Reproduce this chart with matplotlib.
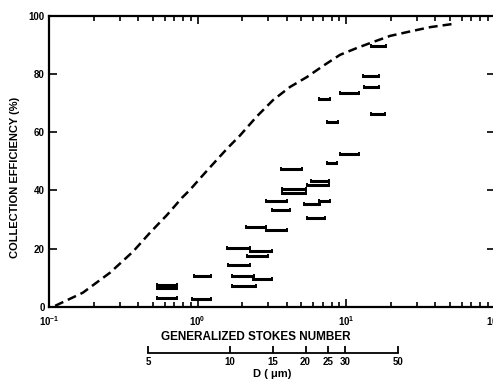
import matplotlib.pyplot as plt
import numpy as np

plt.rcParams['font.family'] = ['Liberation Sans', 'DejaVu Sans']
plt.rcParams['font.weight'] = 'bold'
plt.rcParams['mathtext.fontset'] = 'custom'
plt.rcParams['mathtext.bf'] = 'Liberation Sans:bold'
plt.rcParams['mathtext.rm'] = 'Liberation Sans:bold'

# dashed theory curve
curve_stk = [0.11, 0.169, 0.258, 0.368, 0.479, 0.624, 0.787, 0.89, 1.1, 1.35,
             1.6, 1.93, 2.5, 3.23, 4.2, 5.46, 7.0, 9.11, 11.9, 15.2, 19.8,
             25.8, 36.8, 52.5]
curve_eff = [0.4, 4.9, 11.8, 19.0, 25.5, 31.6, 37.5, 40.2, 45.5, 50.5,
             54.6, 58.8, 65.3, 71.0, 75.5, 78.9, 82.7, 86.5, 88.9, 90.9, 93.0,
             94.3, 96.0, 97.1]

# measured points: range of Stokes number at each efficiency
bar_lo = [0.534, 0.534, 0.534, 0.918, 0.947, 1.58, 2.257, 2.154, 1.605, 1.707,
          2.364, 1.707, 2.121, 2.892, 3.175, 2.892, 5.214, 6.578, 5.462, 3.707,
          3.707, 5.462, 5.81, 3.65, 7.449, 9.112, 14.74, 7.449, 6.578, 9.112,
          13.22, 13.01, 14.74]
bar_hi = [0.728, 0.728, 0.728, 1.233, 1.233, 2.257, 3.175, 2.984, 2.257, 2.402,
          3.175, 2.477, 2.892, 4.006, 4.197, 4.006, 6.681, 7.803, 7.221, 5.379,
          5.379, 7.682, 7.682, 5.055, 8.7, 12.23, 18.3, 8.836, 7.803, 12.23,
          16.68, 16.68, 18.59]
bar_eff = [3.0, 7.6, 6.6, 2.7, 10.7, 20.3, 19.3, 17.6, 14.5, 10.7,
           9.7, 7.3, 27.5, 26.5, 33.3, 36.4, 35.4, 36.4, 30.6, 40.5,
           39.2, 41.9, 43.1, 47.4, 49.4, 52.4, 66.2, 63.5, 71.4, 73.5,
           75.6, 79.4, 89.4]

# particle diameter scale under the Stokes axis
d_labels = ['5', '10', '15', '20', '25', '30', '50']
d_stk = [0.464, 1.655, 3.225, 5.337, 7.565, 9.92, 22.29]

fig = plt.figure(figsize=(4.93, 3.84), dpi=100)
ax = fig.add_axes([49 / 493, 77 / 384, 445.5 / 493, 291.5 / 384])

ax.plot(curve_stk, curve_eff, color='black', lw=1.8, dashes=(3.6, 2.0))
ax.hlines(bar_eff, bar_lo, bar_hi, color='black', lw=2.2)
ax.plot(bar_lo, bar_eff, ls='none', marker='|', ms=3.5, mew=1.4, color='black')
ax.plot(bar_hi, bar_eff, ls='none', marker='|', ms=3.5, mew=1.4, color='black')

ax.set_xscale('log')
ax.set_xlim(0.1, 100)
ax.set_ylim(0, 100)
ax.set_yticks([0, 20, 40, 60, 80, 100])
ax.set_xticks([0.1, 1, 10, 100])
ax.set_xticklabels([r'$\mathbf{10^{-1}}$', r'$\mathbf{10^{0}}$',
                    r'$\mathbf{10^{1}}$', r'$\mathbf{10^{2}}$'])
ax.tick_params(which='both', direction='in', top=True, right=True, width=1.2,
               labelsize=7)
ax.tick_params(which='major', length=6)
ax.tick_params(which='minor', length=3.5)
ax.tick_params(axis='x', pad=5)
ax.tick_params(axis='y', pad=3)
for s in ax.spines.values():
    s.set_linewidth(1.6)

ax.set_xlabel('GENERALIZED STOKES NUMBER', fontsize=8.5, fontweight='bold')
ax.xaxis.set_label_coords(0.4635, -0.082)
ax.set_ylabel('COLLECTION EFFICIENCY (%)', fontsize=8, fontweight='bold')
ax.yaxis.set_label_coords(-0.065, 0.446)

# D (um) scale
dax = fig.add_axes([49 / 493, (384 - 352.5) / 384, 445.5 / 493, 0.0001])
dax.set_xscale('log')
dax.set_xlim(0.1, 100)
dax.set_yticks([])
for k in ['top', 'left', 'right']:
    dax.spines[k].set_visible(False)
dax.spines['bottom'].set_bounds(d_stk[0], d_stk[-1])
dax.spines['bottom'].set_linewidth(1.3)
dax.set_xticks(d_stk)
dax.set_xticklabels(d_labels)
dax.xaxis.set_minor_locator(plt.NullLocator())
dax.tick_params(axis='x', direction='in', length=5, width=1.3, labelsize=7, pad=3)
dax.set_xlabel('D ( μm)', fontsize=8, fontweight='bold', labelpad=2)

fig.savefig('out.png', dpi=100)
